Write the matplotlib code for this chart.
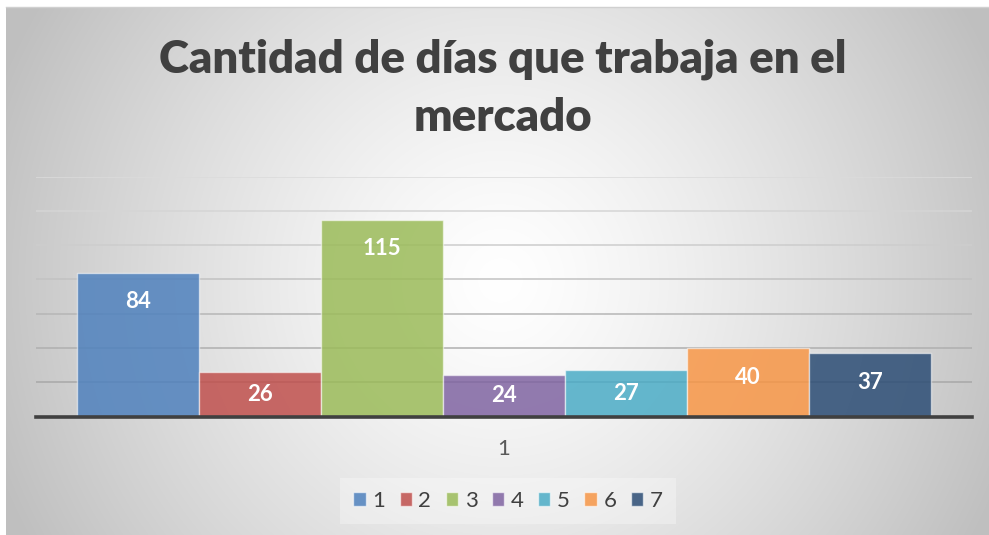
import numpy as np
import matplotlib
matplotlib.use("Agg")
import matplotlib.pyplot as plt
from matplotlib.patches import Patch
from matplotlib.colors import to_rgba

plt.rcParams['font.family'] = ['Lato', 'DejaVu Sans']

# datos
title_lines = ['Cantidad de días que trabaja en el', 'mercado']
category = ['1']
series_names = ['1', '2', '3', '4', '5', '6', '7']
values = [84, 26, 115, 24, 27, 40, 37]
colors = ['#4F81BD', '#C0504D', '#9BBB59', '#8064A2', '#4BACC6', '#F79646', '#2C4D75']
y_ticks = [20, 40, 60, 80, 100, 120, 140]
grid_colors = ['#a8a8a8', '#afafaf', '#b6b6b6', '#c2c2c2', '#cdcdcd', '#d5d5d5', '#dbdbdb']

W, H = 989, 535
fig = plt.figure(figsize=(W / 100, H / 100), dpi=100)
fig.patch.set_facecolor('white')

# fondo con degradado radial (estilo Excel)
bg = fig.add_axes([6 / W, 0, (W - 6) / W, (H - 7) / H])
xx, yy = np.meshgrid(np.arange(6, W), np.arange(7, H))
r = np.sqrt((xx - 500) ** 2 + (yy - 280) ** 2) / 540
r = np.clip(r, 0, 1)
g = 1.0 - 0.25 * r ** 1.3
bg.imshow(np.dstack([g, g, g]), aspect='auto', extent=(0, 1, 0, 1), origin='upper')
bg.axis('off')
fig.add_artist(plt.Line2D([6 / W, 1], [(H - 7) / H] * 2, color='#d0d0d0', lw=1))

# area de trazado
ax = fig.add_axes([36 / W, (H - 416.5) / H, 936 / W, 239.8 / H])
ax.patch.set_alpha(0)
x = np.arange(len(values))
ax.set_xlim(-0.5 - 0.333, len(values) - 0.5 + 0.333)
ax.set_ylim(0, 140)

for yv, gc in zip(y_ticks, grid_colors):
    ax.axhline(yv, color=gc, lw=1.1, zorder=1)

face = [to_rgba(c, 0.85) for c in colors]
edge = [to_rgba('white', 0.55)] * len(colors)
ax.bar(x, values, width=1.0, color=face, edgecolor=edge, linewidth=1.0, zorder=2)

for xi, v in zip(x, values):
    ax.text(xi, max(v - 17, v / 2), str(v), ha='center', va='center',
            color='white', fontsize=16, fontweight='bold', zorder=3)

for s in ['top', 'right', 'left']:
    ax.spines[s].set_visible(False)
ax.spines['bottom'].set_color('#404040')
ax.spines['bottom'].set_linewidth(2.6)
ax.spines['bottom'].set_zorder(4)
ax.set_yticks([])
ax.set_xticks([(len(values) - 1) / 2])
ax.set_xticklabels(category, fontsize=16, color='#595959')
ax.tick_params(axis='x', length=0, pad=16)

# titulo
fig.text(503 / W, 1 - 72 / H, title_lines[0], ha='center', va='baseline',
         fontsize=32.8, fontweight='heavy', color='#404040')
fig.text(503 / W, 1 - 131 / H, title_lines[1], ha='center', va='baseline',
         fontsize=32.8, fontweight='heavy', color='#404040')

# leyenda
handles = [Patch(facecolor=to_rgba(c, 0.85), edgecolor=to_rgba('white', 0.6), lw=1)
           for c in colors]
leg = fig.legend(handles, series_names, loc='center', bbox_to_anchor=(508 / W, 1 - 501 / H),
                 ncol=7, fontsize=16, frameon=True, fancybox=False, framealpha=0.3,
                 facecolor='white', edgecolor='none',
                 handlelength=0.55, handleheight=0.55, handletextpad=0.3,
                 columnspacing=0.65, borderpad=0.6)
for t in leg.get_texts():
    t.set_color('#404040')

fig.savefig('out.png', dpi=100)
